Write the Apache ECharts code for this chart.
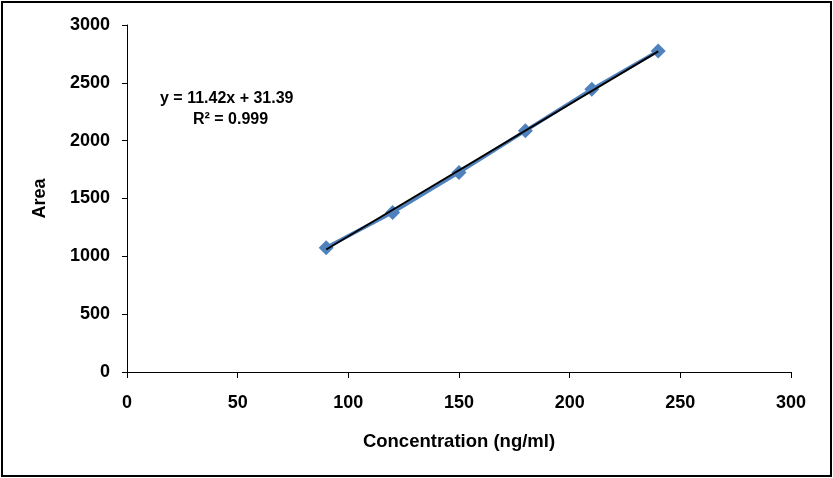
<!DOCTYPE html>
<html>
<head>
<meta charset="utf-8">
<script src="https://cdn.jsdelivr.net/npm/echarts@6/dist/echarts.min.js"></script>
<style>
html,body{margin:0;padding:0;background:#fff;}
#frame{position:absolute;left:1px;top:1px;width:827px;height:472px;border:2px solid #000;}
#c{position:absolute;left:0;top:0;width:833px;height:478px;}
</style>
</head>
<body>
<div id="frame"></div>
<div id="c"></div>
<script>
var concentration = [90, 120, 150, 180, 210, 240];
var area = [1075, 1380, 1725, 2085, 2445, 2775];
var trendX = [90, 240];
var trendY = [1059, 2772];
var xTicks = [0, 50, 100, 150, 200, 250, 300];
var yTicks = [0, 500, 1000, 1500, 2000, 2500, 3000];
var equationText = 'y = 11.42x + 31.39';
var r2Text = 'R\u00B2 = 0.999';

var font = '"Liberation Sans", Arial, sans-serif';
var chart = echarts.init(document.getElementById('c'), null, {renderer: 'canvas'});
chart.setOption({
  animation: false,
  backgroundColor: 'transparent',
  grid: {left: 127, right: 42, top: 25, bottom: 106},
  xAxis: {
    type: 'value', min: xTicks[0], max: xTicks[xTicks.length - 1], interval: 50,
    name: 'Concentration (ng/ml)', nameLocation: 'middle', nameGap: 60,
    nameTextStyle: {fontFamily: font, fontWeight: 'bold', fontSize: 18.5, color: '#000'},
    axisLine: {lineStyle: {color: '#000', width: 1}},
    axisTick: {show: true, length: 6, lineStyle: {color: '#000'}},
    axisLabel: {fontFamily: font, fontWeight: 'bold', fontSize: 18, color: '#000', margin: 22,
      formatter: function (v) { return String(v); }},
    splitLine: {show: false}
  },
  yAxis: {
    type: 'value', min: yTicks[0], max: yTicks[yTicks.length - 1], interval: 500,
    name: 'Area', nameLocation: 'middle', nameGap: 78, nameRotate: 90,
    nameTextStyle: {fontFamily: font, fontWeight: 'bold', fontSize: 18, color: '#000'},
    axisLine: {show: true, lineStyle: {color: '#000', width: 1}},
    axisTick: {show: true, length: 5, lineStyle: {color: '#000'}},
    axisLabel: {fontFamily: font, fontWeight: 'bold', fontSize: 18, color: '#000', margin: 17,
      formatter: function (v) { return String(v); }},
    splitLine: {show: false}
  },
  series: [
    {
      type: 'line',
      data: concentration.map(function (x, i) { return [x, area[i]]; }),
      symbol: 'diamond', symbolSize: 15,
      itemStyle: {color: '#4F81BD'},
      lineStyle: {color: '#4F81BD', width: 3.5},
      z: 2
    },
    {
      type: 'line',
      data: trendX.map(function (x, i) { return [x, trendY[i]]; }),
      symbol: 'none',
      lineStyle: {color: '#000', width: 2},
      z: 3
    }
  ],
  graphic: [
    {type: 'text', left: 160, top: 91, style: {text: equationText, font: 'bold 16px ' + font, fill: '#000'}},
    {type: 'text', left: 193, top: 112, style: {text: r2Text, font: 'bold 16px ' + font, fill: '#000'}}
  ]
});
</script>
</body>
</html>
